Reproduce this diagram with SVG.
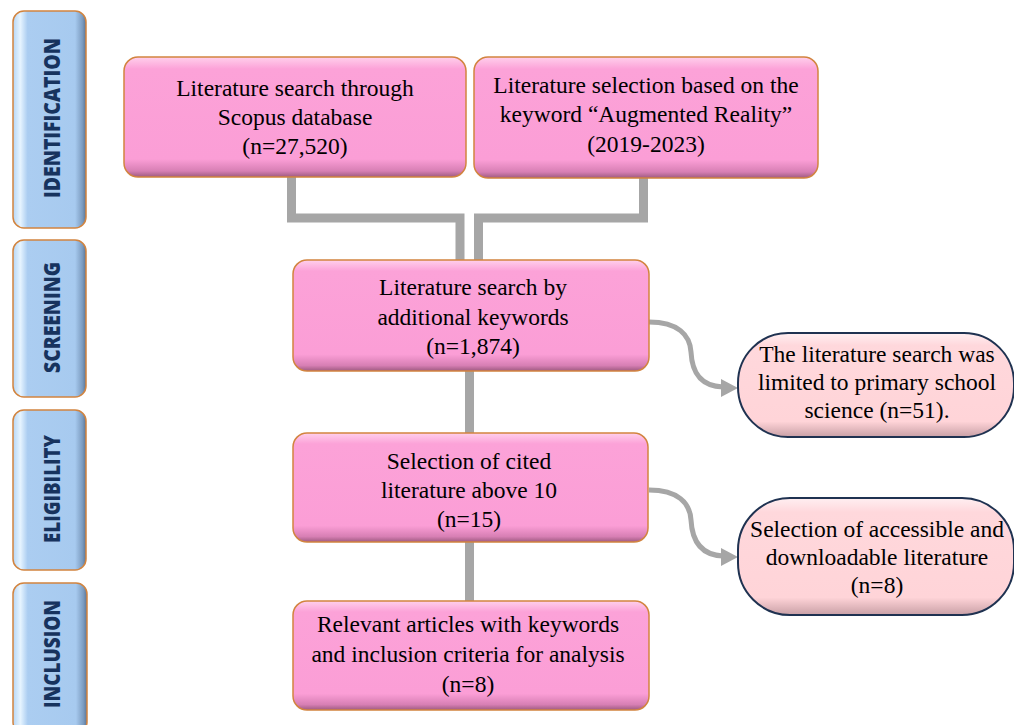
<svg xmlns="http://www.w3.org/2000/svg" width="1014" height="725" viewBox="0 0 1014 725">
<defs>
  <linearGradient id="pinkV" x1="0" y1="0" x2="0" y2="1">
    <stop offset="0" stop-color="#FFD0EC"/>
    <stop offset="0.1" stop-color="#FCA2D8"/>
    <stop offset="0.85" stop-color="#FB9ED6"/>
    <stop offset="0.95" stop-color="#D77FB4"/>
    <stop offset="1" stop-color="#9E5A80"/>
  </linearGradient>
  <linearGradient id="blueH" x1="0" y1="0" x2="1" y2="0">
    <stop offset="0" stop-color="#B6D6F6"/>
    <stop offset="0.1" stop-color="#E6F4FF"/>
    <stop offset="0.2" stop-color="#ABCDF1"/>
    <stop offset="0.85" stop-color="#A7CAEF"/>
    <stop offset="0.95" stop-color="#7C9CC0"/>
    <stop offset="1" stop-color="#5A7596"/>
  </linearGradient>
  <linearGradient id="pillV" x1="0" y1="0" x2="0" y2="1">
    <stop offset="0" stop-color="#FFEFF1"/>
    <stop offset="0.12" stop-color="#FFD8DC"/>
    <stop offset="0.85" stop-color="#FFD4D8"/>
    <stop offset="1" stop-color="#C9A0A6"/>
  </linearGradient>
</defs>
<style>
  .pink { fill: url(#pinkV); stroke: #D2843F; stroke-width: 1.5; }
  .blue { fill: url(#blueH); stroke: #D2843F; stroke-width: 1.5; }
  .pill { fill: url(#pillV); stroke: #1F3251; stroke-width: 2; }
  .t { font-family: "Liberation Serif", "Times New Roman", serif; font-size: 23.5px; fill: #000; text-anchor: middle; }
  .lab { font-family: "Open Sans", "DejaVu Sans", sans-serif; font-weight: 800; font-size: 22px; fill: #17335E; text-anchor: middle; }
  .conn { fill: none; stroke: #A6A6A6; stroke-width: 9; }
  .curve { fill: none; stroke: #A6A6A6; stroke-width: 5; }
  .head { fill: #A6A6A6; }
</style>

<g id="connectors">
  <polyline class="conn" points="291.5,177 291.5,218 460,218 460,261"/>
  <polyline class="conn" points="643.5,178 643.5,218 478.5,218 478.5,261"/>
  <line class="conn" x1="469.5" y1="371" x2="469.5" y2="434"/>
  <line class="conn" x1="469.5" y1="542" x2="469.5" y2="602"/>
  <path class="curve" d="M649,322 C678,322 690,335 691,352 C692,372 700,386 723,387"/>
  <polygon class="head" points="738,388 721,379 721,397"/>
  <path class="curve" d="M649,490 C678,490 690,503 691,520 C692,540 700,555 723,556"/>
  <polygon class="head" points="738,557 721,548 721,566"/>
</g>

<g id="label-identification">
  <rect class="blue" x="13" y="11" width="73" height="217" rx="11"/>
  <text class="lab" transform="translate(60,118) rotate(-90)" textLength="160" lengthAdjust="spacingAndGlyphs">IDENTIFICATION</text>
</g>
<g id="label-screening">
  <rect class="blue" x="13" y="240" width="73" height="157" rx="11"/>
  <text class="lab" transform="translate(60,317.5) rotate(-90)" textLength="111" lengthAdjust="spacingAndGlyphs">SCREENING</text>
</g>
<g id="label-eligibility">
  <rect class="blue" x="13" y="410" width="73" height="160" rx="11"/>
  <text class="lab" transform="translate(60,489) rotate(-90)" textLength="108" lengthAdjust="spacingAndGlyphs">ELIGIBILITY</text>
</g>
<g id="label-inclusion">
  <rect class="blue" x="13" y="583" width="74" height="150" rx="11"/>
  <text class="lab" transform="translate(60,654) rotate(-90)" textLength="108" lengthAdjust="spacingAndGlyphs">INCLUSION</text>
</g>

<g id="node-scopus">
  <rect class="pink" x="124" y="57" width="342" height="120" rx="14"/>
  <text class="t" x="295" y="96">Literature search through</text>
  <text class="t" x="295" y="125">Scopus database</text>
  <text class="t" x="295" y="154">(n=27,520)</text>
</g>
<g id="node-keyword">
  <rect class="pink" x="474" y="57" width="344" height="121" rx="14"/>
  <text class="t" x="646" y="93">Literature selection based on the</text>
  <text class="t" x="646" y="122">keyword “Augmented Reality”</text>
  <text class="t" x="646" y="152">(2019-2023)</text>
</g>
<g id="node-additional">
  <rect class="pink" x="293" y="260" width="356" height="111" rx="14"/>
  <text class="t" x="473" y="295">Literature search by</text>
  <text class="t" x="473" y="325">additional keywords</text>
  <text class="t" x="473" y="354">(n=1,874)</text>
</g>
<g id="node-cited">
  <rect class="pink" x="293" y="433" width="355" height="109" rx="14"/>
  <text class="t" x="469" y="469">Selection of cited</text>
  <text class="t" x="469" y="498">literature above 10</text>
  <text class="t" x="469" y="527">(n=15)</text>
</g>
<g id="node-relevant">
  <rect class="pink" x="293" y="601" width="356" height="109" rx="14"/>
  <text class="t" x="468" y="632">Relevant articles with keywords</text>
  <text class="t" x="468" y="662">and inclusion criteria for analysis</text>
  <text class="t" x="468" y="692">(n=8)</text>
</g>
<g id="node-primary">
  <rect class="pill" x="738" y="333" width="276" height="104" rx="50"/>
  <text class="t" x="877" y="362">The literature search was</text>
  <text class="t" x="877" y="390">limited to primary school</text>
  <text class="t" x="877" y="418">science (n=51).</text>
</g>
<g id="node-accessible">
  <rect class="pill" x="738" y="498" width="276" height="117" rx="52"/>
  <text class="t" x="877" y="537">Selection of accessible and</text>
  <text class="t" x="877" y="565">downloadable literature</text>
  <text class="t" x="877" y="593">(n=8)</text>
</g>
</svg>
